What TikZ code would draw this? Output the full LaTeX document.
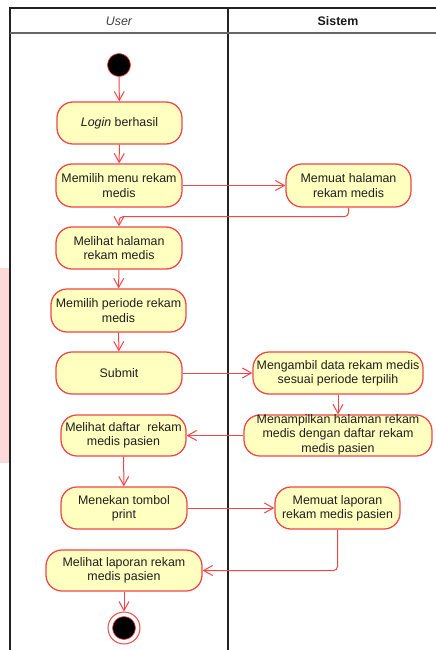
\documentclass[tikz,border=0pt]{standalone}
\usepackage{fontspec}
\setmainfont{Liberation Sans}
\usetikzlibrary{arrows.meta}
\definecolor{actred}{RGB}{240,70,72}
\definecolor{actfill}{RGB}{255,255,192}
\definecolor{laneline}{RGB}{34,34,34}
\definecolor{txtcol}{RGB}{30,30,30}
\definecolor{markpink}{RGB}{255,217,217}
\begin{document}
\begin{tikzpicture}[x=1pt,y=-1pt,
  act/.style={draw=actred, fill=actfill, line width=1.25pt, rounded corners=16pt,
    inner sep=0pt, minimum height=42pt},
  txt/.style={align=center, font=\fontsize{12.4pt}{14.4pt}\selectfont, text=txtcol, inner sep=0pt},
  flow/.style={draw=actred, line width=1pt, -{Straight Barb[length=9pt,width=10pt]}},
  lane/.style={draw=laneline, line width=1.2pt},
  startdot/.style={circle, fill=black, draw=actred, line width=0.7pt, minimum size=23pt, inner sep=0pt},
  enddot/.style={circle, draw=actred, line width=1pt, minimum size=32pt, inner sep=0pt, fill=white}
]
\useasboundingbox (0,0) rectangle (436,650);
\fill[white] (0,0) rectangle (436,650);
% side marker strip
\fill[markpink] (0,268) rectangle (9,463);

% swimlanes
\draw[lane] (10,650) -- (10,8) -- (436,8);
\draw[lane] (228,8) -- (228,650);
\draw[draw=gray!80!black, line width=1.2pt] (10,33) -- (436,33);
\node[txt, text=black!75, font=\fontsize{12.4pt}{14pt}\selectfont\itshape] (hUser) at (119,21) {User};
\node[txt, text=black!90, font=\fontsize{12.4pt}{14pt}\selectfont\bfseries] (hSis) at (338,21) {Sistem};

% user lane
\node[startdot] (start) at (119,65) {};
\node[act, minimum width=125pt] (login) at (119.5,123) {};
\node[txt] at (login) {\textit{Login} berhasil};
\node[act, minimum width=126pt, minimum height=43pt] (menu) at (119,185.5) {};
\node[txt] at (menu) {Memilih menu rekam\\medis};
\node[act, minimum width=126pt] (lihat) at (119,248) {};
\node[txt] at (lihat) {Melihat halaman\\rekam medis};
\node[act, minimum width=135pt, minimum height=43pt] (periode) at (118.5,310.5) {};
\node[txt] at (periode) {Memilih periode rekam\\medis};
\node[act, minimum width=126pt] (submit) at (119,373) {};
\node[txt] at (submit) {Submit};
\node[act, minimum width=125pt, minimum height=41pt] (daftar) at (123.5,435.5) {};
\node[txt] at (daftar) {Melihat daftar\ \ rekam\\medis pasien};
\node[act, minimum width=126pt] (tekan) at (124,508) {};
\node[txt] at (tekan) {Menekan tombol\\print};
\node[act, minimum width=156pt, minimum height=41pt] (vlap) at (124,570.5) {};
\node[txt] at (vlap) {Melihat laporan rekam\\medis pasien};
\node[enddot] (end) at (124,628) {};
\node[circle, fill=black, draw=actred, line width=0.6pt, minimum size=23pt, inner sep=0pt] (endcore) at (end) {};

% system lane
\node[act, minimum width=125pt, minimum height=43pt] (muat) at (348.5,185.5) {};
\node[txt] at (muat) {Memuat halaman\\rekam medis};
\node[act, minimum width=170pt] (ambil) at (338,373) {};
\node[txt] at (ambil) {Mengambil data rekam medis\\sesuai periode terpilih};
\node[act, minimum width=188pt, minimum height=41pt] (tampil) at (338,435.5) {};
\node[txt] at ([yshift=1pt]tampil.center) {Menampilkan halaman rekam\\medis dengan daftar rekam\\medis pasien};
\node[act, minimum width=125pt] (mlap) at (337.5,508) {};
\node[txt] at (mlap) {Memuat laporan\\rekam medis pasien};

% control flow
\draw[flow] (start) -- (login);
\draw[flow] (login) -- (menu);
\draw[flow] (menu) -- (muat);
\draw[flow, rounded corners=4pt] (muat.south) -- ++(0,9) -| (lihat.north);
\draw[flow] (lihat) -- (periode);
\draw[flow] (periode) -- (submit);
\draw[flow] (submit) -- (ambil);
\draw[flow] (ambil) -- (tampil);
\draw[flow] (tampil) -- (daftar);
\draw[flow] (daftar) -- (tekan);
\draw[flow] (tekan) -- (mlap);
\draw[flow, rounded corners=4pt] (mlap.south) |- (vlap.east);
\draw[flow] (vlap) -- (end);
\end{tikzpicture}
\end{document}
